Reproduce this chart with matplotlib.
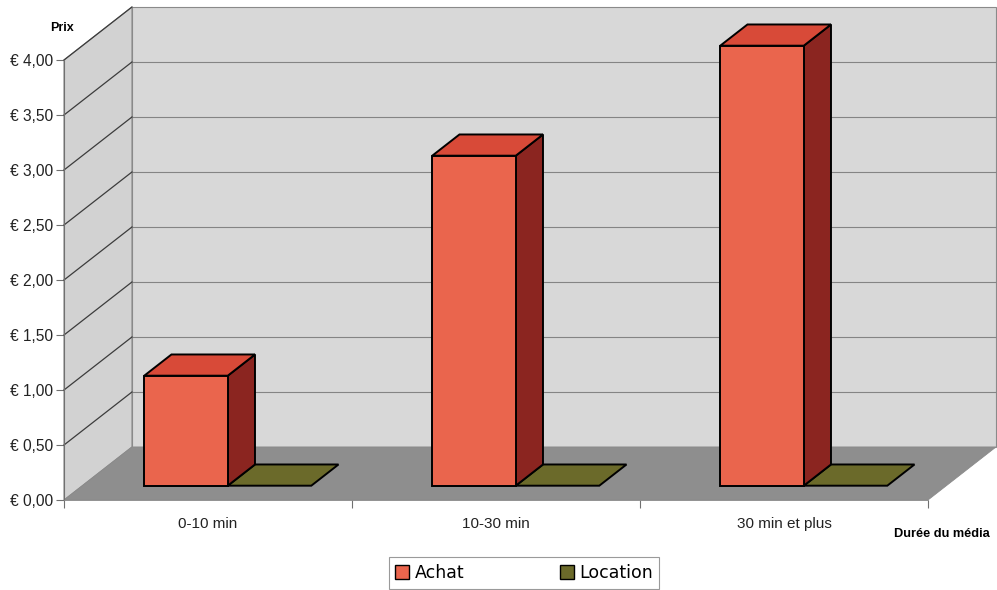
import matplotlib.pyplot as plt
from matplotlib.patches import Polygon, Patch

categories = ['0-10 min', '10-30 min', '30 min et plus']
achat = [1.0, 3.0, 4.0]
location = [0.0, 0.0, 0.0]
yticks = [0, 0.5, 1.0, 1.5, 2.0, 2.5, 3.0, 3.5, 4.0]
ytick_labels = ['€ 0,00', '€ 0,50', '€ 1,00', '€ 1,50', '€ 2,00',
                '€ 2,50', '€ 3,00', '€ 3,50', '€ 4,00']

# fake 3d: depth shift in data units (x in categories, y in euros)
DX = 0.236
DY = 0.482
Z0, Z1 = 0.27, 0.67
W = 0.29
YMAX = 4.0
NCAT = len(categories)


def proj(x, y, z):
    return (x + z * DX, y + z * DY)


def poly(ax, pts, fc, ec='black', lw=1.4, z=3):
    ax.add_patch(Polygon([proj(*p) for p in pts], closed=True, facecolor=fc,
                         edgecolor=ec, linewidth=lw, zorder=z, joinstyle='miter'))


fig = plt.figure(figsize=(9.97, 5.90), dpi=100)
ax = fig.add_axes([0, 0, 1, 1])
ax.set_xlim(-64 / 288, (997 - 64) / 288)
ax.set_ylim(-90 / 110, 500 / 110)

# walls and floor
poly(ax, [(0, 0, 1), (NCAT, 0, 1), (NCAT, YMAX, 1), (0, YMAX, 1)], '#d8d8d8', '#8a8a8a', 0.8, 1)
poly(ax, [(0, 0, 0), (0, 0, 1), (0, YMAX, 1), (0, YMAX, 0)], '#d2d2d2', '#8a8a8a', 0.8, 1)
poly(ax, [(0, 0, 0), (NCAT, 0, 0), (NCAT, 0, 1), (0, 0, 1)], '#8e8e8e', '#8a8a8a', 0.6, 1)

# gridlines on back wall and side wall
for t in yticks[1:-1]:
    xs, ys = zip(proj(0, t, 1), proj(NCAT, t, 1))
    ax.plot(xs, ys, color='#848484', lw=0.8, zorder=2)
for t in yticks[1:]:
    xs, ys = zip(proj(0, t, 0), proj(0, t, 1))
    ax.plot(xs, ys, color='#3c3c3c', lw=0.9, zorder=2)

# bars
for i in range(NCAT):
    a0 = i + 0.505 - W
    a1 = i + 0.505
    l1 = i + 0.505 + W
    # location (flat, value 0)
    v = location[i]
    poly(ax, [(a1, v, Z0), (l1, v, Z0), (l1, v, Z1), (a1, v, Z1)], '#6b6a2a')
    v = achat[i]
    poly(ax, [(a1, 0, Z0), (a1, 0, Z1), (a1, v, Z1), (a1, v, Z0)], '#8b2520', z=4)
    poly(ax, [(a0, v, Z0), (a1, v, Z0), (a1, v, Z1), (a0, v, Z1)], '#d84a38', z=4)
    poly(ax, [(a0, 0, Z0), (a1, 0, Z0), (a1, v, Z0), (a0, v, Z0)], '#ea654d', z=5)

# axes
for s in ['top', 'right']:
    ax.spines[s].set_visible(False)
ax.spines['left'].set_position(('data', 0))
ax.spines['left'].set_bounds(0, YMAX)
ax.spines['left'].set_color('#707070')
ax.spines['bottom'].set_position(('data', 0))
ax.spines['bottom'].set_bounds(0, NCAT)
ax.spines['bottom'].set_color('#8a8a8a')
ax.spines['bottom'].set_linewidth(0.6)

ax.set_yticks(yticks)
ax.set_yticklabels(ytick_labels, fontsize=11.2, family='Liberation Sans', color='#222222')
ax.tick_params(axis='y', length=6, color='#707070', pad=2)

ax.set_xticks(range(NCAT + 1))
ax.set_xticklabels([])
ax.set_xticks([i + 0.5 for i in range(NCAT)], minor=True)
ax.set_xticklabels(categories, minor=True, fontsize=11, family='Liberation Sans', color='#222222')
ax.tick_params(axis='x', which='major', length=6, color='#707070')
ax.tick_params(axis='x', which='minor', length=0, pad=12)

fig.text(62 / 997, 1 - 28 / 590, 'Prix', ha='center', va='center',
         fontsize=9, fontweight='bold', family='Liberation Sans')
fig.text(942 / 997, 1 - 534 / 590, 'Durée du média', ha='center', va='center',
         fontsize=9.2, fontweight='bold', family='Liberation Sans')

handles = [Patch(facecolor='#ea654d', edgecolor='black', label='Achat'),
           Patch(facecolor='#6b6a2a', edgecolor='black', label='Location')]
leg = fig.legend(handles=handles, loc='center', bbox_to_anchor=(524 / 997, 17 / 590), ncol=2,
                 fancybox=False, edgecolor='#9a9a9a', framealpha=1,
                 handlelength=0.8, handleheight=0.8, handletextpad=0.3,
                 columnspacing=5.5, borderpad=0.4, borderaxespad=0,
                 prop={'family': 'DejaVu Sans', 'size': 12.5})
leg.get_frame().set_linewidth(0.8)

fig.savefig('out.png', dpi=100)
